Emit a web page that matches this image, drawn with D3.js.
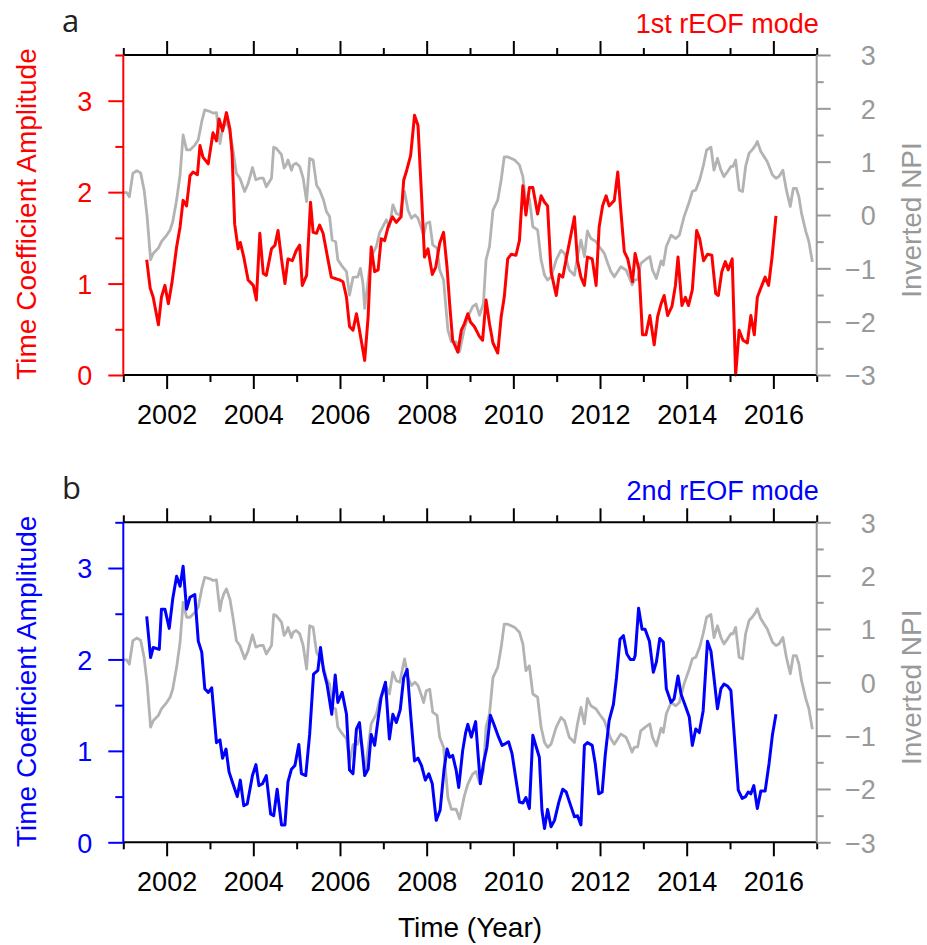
<!DOCTYPE html>
<html>
<head>
<meta charset="utf-8">
<script src="https://cdn.jsdelivr.net/npm/d3@7"></script>
<style>
  body { margin: 0; background: #fff; }
  svg { display: block; font-family: "Liberation Sans", Arial, sans-serif; }
</style>
</head>
<body>
<div id="chart"></div>
<script>
// inverted NPI (grey, right axis) - same series in both panels
const npiYear = [2001.00,2001.08,2001.14,2001.22,2001.31,2001.40,2001.48,2001.55,2001.63,2001.69,2001.81,2001.88,2002.00,2002.08,2002.14,2002.23,2002.31,2002.38,2002.46,2002.54,2002.65,2002.73,2002.81,2002.88,2003.00,2003.07,2003.15,2003.23,2003.27,2003.32,2003.38,2003.46,2003.53,2003.61,2003.69,2003.80,2003.88,2003.98,2004.06,2004.15,2004.23,2004.30,2004.42,2004.47,2004.53,2004.65,2004.71,2004.76,2004.80,2004.88,2004.92,2004.99,2005.07,2005.15,2005.23,2005.30,2005.38,2005.46,2005.53,2005.62,2005.69,2005.76,2005.82,2005.90,2005.95,2006.03,2006.15,2006.22,2006.30,2006.41,2006.47,2006.53,2006.57,2006.65,2006.72,2006.84,2006.91,2007.07,2007.14,2007.22,2007.30,2007.38,2007.45,2007.49,2007.57,2007.65,2007.73,2007.80,2007.88,2007.93,2007.99,2008.07,2008.14,2008.24,2008.30,2008.39,2008.49,2008.57,2008.68,2008.76,2008.87,2008.95,2009.06,2009.14,2009.22,2009.31,2009.37,2009.45,2009.53,2009.64,2009.72,2009.79,2009.87,2010.03,2010.14,2010.22,2010.29,2010.37,2010.45,2010.56,2010.64,2010.72,2010.79,2010.87,2010.99,2011.10,2011.18,2011.29,2011.41,2011.48,2011.56,2011.64,2011.71,2011.79,2011.91,2011.98,2012.10,2012.18,2012.25,2012.33,2012.48,2012.60,2012.67,2012.74,2012.79,2012.87,2012.94,2013.06,2013.15,2013.21,2013.30,2013.41,2013.46,2013.53,2013.64,2013.75,2013.83,2013.94,2014.06,2014.13,2014.21,2014.30,2014.38,2014.46,2014.56,2014.63,2014.71,2014.79,2014.86,2014.94,2015.02,2015.07,2015.13,2015.21,2015.29,2015.36,2015.44,2015.52,2015.59,2015.63,2015.71,2015.79,2015.86,2015.98,2016.06,2016.13,2016.22,2016.30,2016.39,2016.46,2016.53,2016.59,2016.65,2016.75,2016.82,2016.90];
const npiValue = [0.42,0.42,0.34,0.78,0.83,0.79,0.47,-0.03,-0.84,-0.72,-0.62,-0.50,-0.38,-0.28,-0.13,0.28,0.75,1.50,1.22,1.22,1.31,1.41,1.75,1.97,1.94,1.91,1.92,1.34,1.53,1.66,1.75,1.56,1.22,0.78,0.69,0.44,0.59,0.89,0.66,0.69,0.69,0.53,0.69,1.27,1.25,1.13,0.88,0.94,1.03,0.84,0.94,0.97,0.91,0.69,0.25,1.06,1.03,0.56,0.47,0.28,0.06,-0.03,-0.47,-0.50,-0.84,-0.94,-1.06,-1.50,-1.17,-1.16,-1.00,-1.28,-1.75,-1.22,-0.78,-0.59,-0.34,-0.09,-0.22,0.19,0.03,0.00,0.28,0.44,0.09,-0.06,0.00,-0.06,-0.25,-0.38,-0.16,-0.13,-0.56,-0.62,-1.03,-1.22,-2.16,-2.38,-2.38,-2.56,-2.13,-1.91,-1.72,-1.67,-1.88,-1.66,-0.84,-0.59,0.09,0.28,0.66,1.09,1.09,1.03,0.94,0.72,0.22,0.31,-0.22,-0.28,-0.84,-1.13,-1.22,-1.16,-0.84,-0.66,-0.72,-1.03,-1.13,-0.78,-0.47,-0.78,-0.30,-0.44,-0.50,-0.59,-0.72,-0.91,-1.06,-1.16,-0.97,-1.03,-1.16,-1.31,-1.22,-1.21,-0.91,-0.83,-0.78,-1.03,-1.19,-0.86,-0.94,-0.59,-0.38,-0.44,-0.38,-0.03,0.25,0.44,0.47,0.66,0.91,1.22,1.27,0.84,1.06,0.84,0.72,0.81,0.91,0.91,1.03,0.47,0.44,0.91,1.16,1.23,1.31,1.38,1.19,1.09,1.00,0.75,0.69,0.72,0.84,0.47,0.16,0.50,0.50,0.34,0.03,-0.31,-0.50,-0.88];

// 1st rEOF mode time coefficient (red)
const mode1Year = [2001.54,2001.62,2001.69,2001.81,2001.88,2001.96,2002.04,2002.12,2002.23,2002.31,2002.38,2002.46,2002.54,2002.61,2002.71,2002.77,2002.84,2002.96,2003.07,2003.15,2003.21,2003.29,2003.38,2003.46,2003.51,2003.57,2003.65,2003.70,2003.78,2003.88,2004.00,2004.07,2004.15,2004.23,2004.30,2004.42,2004.50,2004.57,2004.65,2004.73,2004.80,2004.90,2004.99,2005.07,2005.13,2005.23,2005.32,2005.38,2005.46,2005.53,2005.61,2005.72,2005.80,2005.92,2005.99,2006.07,2006.15,2006.22,2006.30,2006.38,2006.45,2006.57,2006.65,2006.72,2006.80,2006.88,2006.95,2007.03,2007.11,2007.21,2007.30,2007.41,2007.47,2007.54,2007.63,2007.72,2007.80,2007.88,2007.95,2008.03,2008.13,2008.21,2008.30,2008.39,2008.47,2008.53,2008.60,2008.72,2008.80,2008.87,2008.95,2009.01,2009.10,2009.22,2009.29,2009.37,2009.45,2009.53,2009.64,2009.72,2009.79,2009.87,2009.95,2010.06,2010.14,2010.22,2010.29,2010.37,2010.45,2010.56,2010.64,2010.72,2010.79,2010.87,2010.99,2011.06,2011.14,2011.22,2011.29,2011.41,2011.48,2011.56,2011.64,2011.71,2011.82,2011.91,2011.98,2012.06,2012.14,2012.21,2012.29,2012.33,2012.41,2012.48,2012.56,2012.64,2012.75,2012.81,2012.90,2012.98,2013.06,2013.15,2013.25,2013.33,2013.41,2013.48,2013.56,2013.66,2013.74,2013.80,2013.89,2013.97,2014.04,2014.13,2014.23,2014.30,2014.39,2014.48,2014.58,2014.67,2014.73,2014.81,2014.89,2014.96,2015.05,2015.13,2015.21,2015.30,2015.40,2015.48,2015.56,2015.63,2015.71,2015.81,2015.89,2015.97,2016.06];
const mode1Value = [1.26,0.95,0.85,0.55,0.85,0.98,0.78,1.00,1.40,1.62,1.91,1.85,2.18,2.22,2.19,2.51,2.38,2.31,2.65,2.56,2.80,2.67,2.87,2.69,2.42,1.65,1.38,1.45,1.29,1.04,0.98,0.82,1.55,1.11,1.09,1.38,1.42,1.58,1.27,1.00,1.27,1.25,1.36,1.42,0.98,1.09,1.89,1.56,1.55,1.64,1.55,1.27,1.07,1.05,1.04,1.02,0.85,0.53,0.49,0.67,0.49,0.16,0.64,1.40,1.13,1.15,1.49,1.47,1.62,1.73,1.67,1.73,2.13,2.24,2.40,2.84,2.73,1.98,1.29,1.38,1.10,1.18,1.44,1.56,1.18,0.78,0.38,0.25,0.49,0.56,0.67,0.58,0.53,0.42,0.38,0.82,0.56,0.35,0.24,0.64,0.85,1.27,1.32,1.31,1.47,2.07,1.75,2.05,2.05,1.76,1.96,1.89,1.85,1.13,0.87,1.10,1.07,1.27,1.44,1.73,1.25,1.07,0.98,1.29,1.27,0.98,1.62,1.85,1.96,1.85,1.89,1.91,2.22,1.80,1.35,1.27,1.02,1.33,1.15,0.44,0.44,0.65,0.33,0.64,0.78,0.87,0.65,0.75,0.98,1.29,0.76,0.85,0.76,0.93,1.58,1.49,1.25,1.32,1.31,0.89,0.87,1.13,1.24,1.15,1.27,0.00,0.49,0.38,0.35,0.65,0.44,0.85,0.95,1.07,0.98,1.29,1.74];

// 2nd rEOF mode time coefficient (blue)
const mode2Year = [2001.54,2001.63,2001.69,2001.83,2001.88,2001.96,2002.06,2002.14,2002.23,2002.31,2002.38,2002.46,2002.54,2002.65,2002.73,2002.81,2002.88,2002.96,2003.04,2003.15,2003.23,2003.29,2003.37,2003.44,2003.53,2003.63,2003.70,2003.78,2003.86,2003.98,2004.06,2004.13,2004.21,2004.30,2004.40,2004.47,2004.55,2004.65,2004.73,2004.80,2004.88,2004.96,2005.05,2005.11,2005.21,2005.30,2005.39,2005.49,2005.55,2005.62,2005.70,2005.81,2005.89,2005.95,2006.05,2006.15,2006.22,2006.30,2006.38,2006.45,2006.57,2006.65,2006.72,2006.80,2006.88,2006.95,2007.05,2007.14,2007.22,2007.30,2007.39,2007.47,2007.55,2007.63,2007.72,2007.80,2007.88,2007.97,2008.05,2008.13,2008.22,2008.31,2008.40,2008.47,2008.53,2008.60,2008.68,2008.74,2008.83,2008.90,2008.95,2009.03,2009.13,2009.18,2009.24,2009.31,2009.39,2009.47,2009.56,2009.66,2009.74,2009.82,2009.89,2009.97,2010.06,2010.14,2010.22,2010.29,2010.37,2010.45,2010.53,2010.60,2010.66,2010.72,2010.79,2010.87,2010.95,2011.05,2011.14,2011.22,2011.31,2011.41,2011.48,2011.56,2011.64,2011.71,2011.82,2011.89,2011.97,2012.05,2012.12,2012.21,2012.31,2012.38,2012.46,2012.54,2012.62,2012.70,2012.78,2012.81,2012.89,2012.97,2013.04,2013.14,2013.23,2013.30,2013.38,2013.46,2013.53,2013.64,2013.71,2013.80,2013.87,2013.97,2014.06,2014.13,2014.21,2014.29,2014.38,2014.48,2014.56,2014.63,2014.71,2014.79,2014.86,2014.94,2015.02,2015.09,2015.19,2015.28,2015.36,2015.42,2015.48,2015.55,2015.63,2015.71,2015.81,2015.90,2015.98,2016.06];
const mode2Value = [2.47,2.02,2.13,2.11,2.55,2.55,2.34,2.66,2.91,2.80,3.02,2.55,2.68,2.71,2.20,2.08,1.68,1.64,1.69,1.09,1.12,0.92,1.02,0.77,0.64,0.50,0.68,0.40,0.42,0.73,0.85,0.62,0.64,0.73,0.31,0.29,0.58,0.19,0.19,0.66,0.80,0.84,1.07,0.75,0.73,1.18,1.84,1.88,2.13,1.88,1.73,1.40,1.83,1.53,1.64,1.40,0.79,0.75,1.24,1.31,0.73,0.80,1.18,1.06,1.35,1.59,1.75,1.13,1.40,1.31,1.45,1.80,1.89,1.40,0.89,0.92,0.84,0.68,0.75,0.64,0.24,0.35,0.79,1.02,0.93,0.95,0.79,0.60,1.00,1.20,1.29,1.15,1.32,1.00,0.64,0.86,1.04,1.39,1.28,1.15,1.06,1.08,1.10,0.97,0.69,0.44,0.43,0.49,0.37,1.17,1.04,0.93,0.35,0.15,0.36,0.17,0.24,0.44,0.58,0.55,0.42,0.28,0.29,0.19,1.06,1.09,1.06,0.86,0.53,0.55,0.95,1.33,1.51,1.80,2.22,2.26,2.06,2.00,2.00,2.04,2.56,2.33,2.33,2.20,1.86,1.97,2.23,2.19,1.68,1.53,1.57,1.82,1.62,1.49,1.37,1.06,1.24,1.20,1.44,2.20,2.09,1.80,1.46,1.68,1.73,1.71,1.66,1.22,0.57,0.48,0.50,0.55,0.53,0.62,0.37,0.56,0.56,0.86,1.18,1.40];

const xMajor = [2002, 2004, 2006, 2008, 2010, 2012, 2014, 2016];
const xMinor = [2001, 2003, 2005, 2007, 2009, 2011, 2013, 2015, 2017];
const leftMajor = [0, 1, 2, 3];
const leftMinor = [0.5, 1.5, 2.5, 3.5];
const rightMajor = [-3, -2, -1, 0, 1, 2, 3];
const rightMinor = [-2.5, -1.5, -0.5, 0.5, 1.5, 2.5];

const panels = [
  { letter: "a", title: "1st rEOF mode", color: "#ff0000", years: mode1Year, values: mode1Value, top: 55 },
  { letter: "b", title: "2nd rEOF mode", color: "#0000ff", years: mode2Year, values: mode2Value, top: 522.3 }
];

const W = 927, H = 945;
const left = 123.3, right = 816.7, ph = 320;
const greyLine = "#b3b3b3", greyAxis = "#999999";
const fs = 27;

const svg = d3.select("#chart").append("svg")
  .attr("width", W).attr("height", H);

const x = d3.scaleLinear().domain([2001, 2017]).range([left, right]);
const minus = d => d < 0 ? "\u2212" + Math.abs(d) : String(d);

function styleAxis(g, color) {
  g.select(".domain").remove();
  g.selectAll(".tick line").attr("stroke", color).attr("stroke-width", 2);
  g.selectAll("text").attr("fill", color).style("font-size", fs + "px")
    .style("font-family", "'Liberation Sans', Arial, sans-serif");
}

panels.forEach(p => {
  const top = p.top, bottom = top + ph;
  const yL = d3.scaleLinear().domain([0, 3.5]).range([bottom, top]);
  const yR = d3.scaleLinear().domain([-3, 3]).range([bottom, top]);
  const g = svg.append("g");

  // data lines
  const pts = (xs, vs) => xs.map((t, i) => [t, vs[i]]);
  g.append("path")
    .datum(pts(npiYear, npiValue))
    .attr("fill", "none").attr("stroke", greyLine).attr("stroke-width", 2.8)
    .attr("stroke-linejoin", "round")
    .attr("d", d3.line().x(d => x(d[0])).y(d => yR(d[1])));
  g.append("path")
    .datum(pts(p.years, p.values))
    .attr("fill", "none").attr("stroke", p.color).attr("stroke-width", 3)
    .attr("stroke-linejoin", "round")
    .attr("d", d3.line().x(d => x(d[0])).y(d => yL(d[1])));

  // bottom axis
  g.append("g").attr("transform", `translate(0,${bottom})`)
    .call(d3.axisBottom(x).tickValues(xMinor).tickSize(7).tickFormat(""))
    .call(a => styleAxis(a, "#000"));
  g.append("g").attr("transform", `translate(0,${bottom})`)
    .call(d3.axisBottom(x).tickValues(xMajor).tickSize(14).tickFormat(d3.format("d")))
    .call(a => styleAxis(a, "#000"))
    .call(a => a.selectAll("text").attr("y", 49).attr("dy", null));
  // top axis
  g.append("g").attr("transform", `translate(0,${top})`)
    .call(d3.axisTop(x).tickValues(xMinor).tickSize(7).tickFormat(""))
    .call(a => styleAxis(a, "#000"));
  g.append("g").attr("transform", `translate(0,${top})`)
    .call(d3.axisTop(x).tickValues(xMajor).tickSize(14).tickFormat(""))
    .call(a => styleAxis(a, "#000"));
  // left axis
  g.append("g").attr("transform", `translate(${left},0)`)
    .call(d3.axisLeft(yL).tickValues(leftMinor).tickSize(8).tickFormat(""))
    .call(a => styleAxis(a, p.color));
  g.append("g").attr("transform", `translate(${left},0)`)
    .call(d3.axisLeft(yL).tickValues(leftMajor).tickSize(15).tickFormat(d3.format("d")))
    .call(a => styleAxis(a, p.color))
    .call(a => a.selectAll("text").attr("x", -31).attr("dy", "0.36em"));
  // right axis
  g.append("g").attr("transform", `translate(${right},0)`)
    .call(d3.axisRight(yR).tickValues(rightMinor).tickSize(7).tickFormat(""))
    .call(a => styleAxis(a, greyAxis));
  g.append("g").attr("transform", `translate(${right},0)`)
    .call(d3.axisRight(yR).tickValues(rightMajor).tickSize(14).tickFormat(minus))
    .call(a => styleAxis(a, greyAxis))
    .call(a => a.selectAll("text").attr("x", 59).attr("text-anchor", "end").attr("dy", "0.36em"));

  // frame
  g.append("line").attr("x1", left).attr("x2", right).attr("y1", top).attr("y2", top)
    .attr("stroke", "#000").attr("stroke-width", 2);
  g.append("line").attr("x1", left).attr("x2", right).attr("y1", bottom).attr("y2", bottom)
    .attr("stroke", "#000").attr("stroke-width", 2);
  g.append("line").attr("x1", right).attr("x2", right).attr("y1", top).attr("y2", bottom)
    .attr("stroke", greyAxis).attr("stroke-width", 2);
  g.append("line").attr("x1", left).attr("x2", left).attr("y1", top).attr("y2", bottom)
    .attr("stroke", p.color).attr("stroke-width", 2);

  // titles
  g.append("text")
    .attr("transform", `translate(36,${top + ph / 2 - 1}) rotate(-90)`)
    .attr("text-anchor", "middle").attr("fill", p.color)
    .style("font-size", "28px").text("Time Coefficient Amplitude");
  g.append("text")
    .attr("transform", `translate(921,${top + ph / 2 + 5}) rotate(-90)`)
    .attr("text-anchor", "middle").attr("fill", greyAxis)
    .style("font-size", "28px").text("Inverted NPI");
  g.append("text")
    .attr("x", right + 2).attr("y", top - 22)
    .attr("text-anchor", "end").attr("fill", p.color)
    .style("font-size", fs + "px").text(p.title);
  g.append("text")
    .attr("x", 62).attr("y", top - 23)
    .attr("fill", "#222")
    .style("font-family", "'Open Sans', sans-serif")
    .style("font-size", "31px").text(p.letter);
});

svg.append("text")
  .attr("x", (left + right) / 2).attr("y", 937)
  .attr("text-anchor", "middle").attr("fill", "#000")
  .style("font-size", "28px").text("Time (Year)");
</script>
</body>
</html>
